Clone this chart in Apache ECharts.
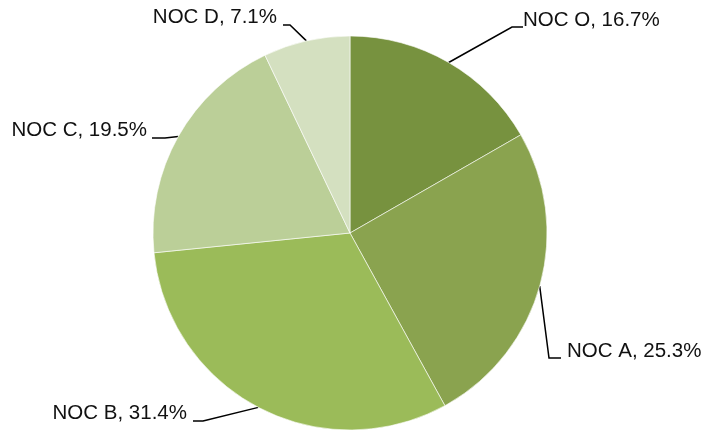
<!DOCTYPE html>
<html>
<head>
<meta charset="utf-8">
<script src="https://cdn.jsdelivr.net/npm/echarts@6/dist/echarts.min.js"></script>
<style>
  html, body { margin: 0; padding: 0; background: #fff; }
  #chart { width: 705px; height: 432px; }
</style>
</head>
<body>
<div id="chart"></div>
<script>
// pie data, clockwise from 12 o'clock
var categories = ['NOC O', 'NOC A', 'NOC B', 'NOC C', 'NOC D'];
var shares = [16.7, 25.3, 31.4, 19.5, 7.1];
var colors = ['#77923f', '#8aa34f', '#9bbb59', '#bbcf98', '#d4e0c0'];

// where each label sits: [anchor x, centre y, side]
var labelPos = [
  [523, 20, 'left'],
  [567, 351, 'left'],
  [187, 413, 'right'],
  [147, 130, 'right'],
  [277, 17, 'right']
];
// leader line: elbow offset from the text edge
var elbow = [[-11, 7], [-18, 7], [16, 8], [18, 8], [13, 8]];
var stub = [[0, 7], [-6, 7], [6, 8], [5, 8], [6, 8]];

var chart = echarts.init(document.getElementById('chart'));

var data = [];
for (var i = 0; i < categories.length; i++) {
  data.push({ name: categories[i], value: shares[i], itemStyle: { color: colors[i] } });
}

chart.setOption({
  animation: false,
  series: [{
    type: 'pie',
    center: [350, 233],
    radius: 197,
    startAngle: 90,
    clockwise: true,
    avoidLabelOverlap: false,
    itemStyle: { borderColor: '#fff', borderWidth: 0.6 },
    label: {
      show: true,
      formatter: function (p) { return p.name + ', ' + p.value.toFixed(1) + '%'; },
      fontFamily: 'Liberation Sans',
      fontSize: 20.5,
      color: '#111'
    },
    labelLine: {
      show: true,
      length: 20,
      length2: 10,
      lineStyle: { color: '#000', width: 1.5 }
    },
    labelLayout: function (params) {
      var i = params.dataIndex;
      var lp = labelPos[i];
      var x = lp[0], y = lp[1];
      var start = params.labelLinePoints ? params.labelLinePoints[0] : [x, y];
      var pts = [
        start,
        [x + elbow[i][0], y + elbow[i][1]],
        [x + stub[i][0], y + stub[i][1]]
      ];
      return {
        x: x,
        y: y,
        align: lp[2],
        verticalAlign: 'middle',
        labelLinePoints: pts
      };
    },
    emphasis: { disabled: true },
    data: data
  }]
});
</script>
</body>
</html>
